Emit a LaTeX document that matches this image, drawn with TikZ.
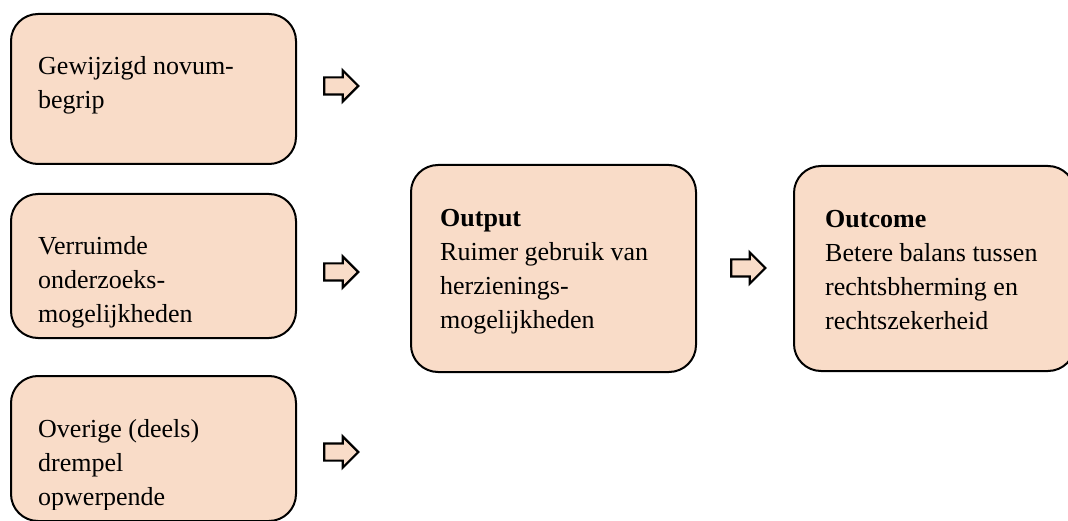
\documentclass[tikz,border=0pt]{standalone}
\usepackage{fontspec}
\setmainfont{Liberation Serif}
\usepackage{xcolor}
\usetikzlibrary{positioning,shapes.arrows}

\definecolor{perzik}{HTML}{F9DCC8}

\begin{document}
\begin{tikzpicture}[
    x=1pt, y=-1pt,
    font=\fontsize{26}{34}\selectfont,
    vak/.style={draw, line width=2pt, fill=perzik, rounded corners=27pt, anchor=north west, inner sep=0pt},
    tekst/.style={align=left, anchor=base west, inner sep=0pt},
    pijl/.style={draw, line width=2.2pt, fill=perzik, single arrow, single arrow head extend=7pt, minimum height=34pt, inner xsep=0pt, inner ysep=7.5pt}
]
\useasboundingbox (0,0) rectangle (1068,521);

% linker kolom (basislijn van de laatste regel)
\node[vak, minimum width=285pt, minimum height=150pt] (novum) at (10,13) {};
\node[tekst] (novumtekst) at (38,109) {Gewijzigd novum-\\begrip};

\node[vak, minimum width=285pt, minimum height=144pt] (onderzoek) at (10,193) {};
\begin{scope}
  \clip (10,193) rectangle (295,327);
  \node[tekst] (onderzoektekst) at (38,323) {Verruimde\\onderzoeks-\\mogelijkheden};
\end{scope}

\node[vak, minimum width=285pt, minimum height=145pt] (drempel) at (10,375) {};
\begin{scope}
  \clip (10,375) rectangle (295,509);
  \node[tekst] (drempeltekst) at (38,505) {Overige (deels)\\drempel\\opwerpende};
\end{scope}

% pijlen naar output
\node[pijl] (pijl1) at (337,86) {};
\node[pijl] (pijl2) at (337,272) {};
\node[pijl] (pijl3) at (337,452) {};

% output
\node[vak, minimum width=285pt, minimum height=207pt] (output) at (410,164) {};
\node[tekst] (outputtekst) at (440,328) {\textbf{Output}\\Ruimer gebruik van\\herzienings-\\mogelijkheden};

% pijl naar outcome
\node[pijl] (pijl4) at (744,268) {};

% outcome
\node[vak, minimum width=281pt, minimum height=205pt] (outcome) at (793,165) {};
\node[tekst] (outcometekst) at (825,330) {\textbf{Outcome}\\Betere balans tussen\\rechtsbherming en\\rechtszekerheid};

\end{tikzpicture}
\end{document}
